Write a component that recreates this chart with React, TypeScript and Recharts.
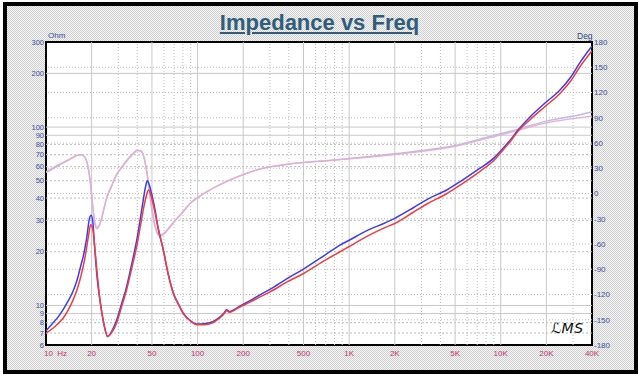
import React from 'react';
import { ComposedChart, Line, XAxis, YAxis, CartesianGrid, ReferenceLine, ReferenceArea } from 'recharts';

// ---- Data ----
const blueFreq = [10, 11, 12, 13, 14, 15, 16, 17, 17.6, 18.5, 19.5, 19.9, 20.4, 21, 21.7, 22.7, 24, 25.5, 27, 29.3, 31.5, 34, 37, 39.7, 42, 43.8, 45.3, 46.6, 48, 49.5, 51, 52.4, 55, 59.4, 64, 69.2, 75, 80.5, 90, 98.5, 110, 126, 140, 150, 155, 162, 175, 190, 220, 260, 300, 387, 500, 700, 870, 1000, 1300, 1720, 2000, 2650, 3300, 4400, 5500, 7300, 9000, 9880, 11500, 12970, 15600, 19500, 24500, 29000, 33300, 40000];
const blueOhm = [7.2, 7.9, 8.6, 9.5, 10.6, 11.9, 13.8, 16.8, 18.8, 23.5, 31.5, 32, 29, 20.5, 14.5, 10.7, 8.0, 6.7, 7.1, 8.3, 10.2, 12.7, 17.5, 23.3, 31, 39, 46, 50, 47.5, 43, 38.5, 34.3, 27, 20.5, 15, 11.7, 10.1, 9.04, 8.2, 7.87, 7.9, 8.1, 8.6, 9.1, 9.45, 9.25, 9.5, 9.9, 10.6, 11.5, 12.3, 14.1, 16, 19.3, 21.8, 23.2, 26.2, 29, 30.8, 35.3, 39.5, 44.4, 50, 58.8, 67, 72.8, 84, 96, 114, 136, 161, 191, 230, 285];

const redFreq = [10, 11, 12, 13, 14, 15, 16, 17, 18, 19, 19.7, 20.3, 21, 21.7, 22.7, 24, 25.5, 27, 29.3, 31.5, 34, 37, 39.7, 42, 44, 46, 47.5, 49, 50.5, 52.4, 55, 59.4, 64, 69.2, 75, 80.5, 90, 98.5, 110, 126, 140, 150, 155, 162, 175, 190, 220, 260, 300, 387, 500, 700, 870, 1000, 1300, 1720, 2000, 2650, 3300, 4400, 5500, 7300, 9000, 9880, 11500, 12970, 15600, 19500, 24500, 29000, 33300, 40000];
const redOhm = [7.0, 7.4, 7.9, 8.5, 9.4, 10.6, 12.2, 14.6, 18.2, 24, 28.3, 27, 21, 15.5, 10.7, 8.0, 6.7, 7.0, 8.0, 9.8, 12.2, 16.5, 21.5, 28, 35, 41.5, 44.4, 42, 38, 33, 27, 20.5, 15, 11.7, 10.1, 9.0, 8.15, 7.8, 7.8, 8.0, 8.5, 9.0, 9.35, 9.15, 9.4, 9.8, 10.4, 11.2, 11.9, 13.5, 15.1, 18, 20.0, 21.4, 24.3, 27.3, 28.8, 33.3, 37.3, 42.3, 47.8, 56.5, 65, 71, 82.5, 94.5, 110, 130, 154, 182, 218, 268];

const phaseFreq = [10, 11, 12, 13, 14, 15, 16, 17, 17.8, 18.5, 19, 19.5, 20, 20.5, 21, 21.7, 22.5, 23.5, 25, 27, 29, 32, 35, 38, 40, 42, 44, 45, 46.5, 48, 50, 52, 54, 56.5, 60, 65, 70, 80, 89, 100, 120, 150, 190, 270, 400, 750, 1000, 1860, 3000, 5000, 8000, 13000, 20000, 30000, 40000];
const pinkDeg = [26, 30, 34, 37, 40, 43, 45.5, 46, 44, 39, 31, 18, 0, -20, -34, -40, -37, -26, -6, 9, 22, 33, 42, 48.5, 51.5, 51, 45, 38, 24, 5, -18, -35, -45, -49, -47, -40, -33, -22, -12, -5, 4, 13, 21, 30, 35, 39, 41, 45.7, 50, 56, 65, 75, 84, 89, 92];
const lightBlueDeg = [25, 29, 33, 36.5, 39.5, 42.5, 45, 46, 44.5, 39, 30, 16, -2, -22, -36, -42, -38, -27, -7, 8, 21, 32, 41, 48, 51, 50.5, 45, 37, 22, 3, -20, -37, -47, -51, -48, -41, -34, -22, -12, -5, 4, 13, 21, 30, 35, 39.5, 41.5, 46.5, 51, 57, 66.5, 76.5, 86, 92, 97];

const xTicks = [10, 20, 50, 100, 200, 500, 1000, 2000, 5000, 10000, 20000, 40000];
const xTickLabels = ['10  Hz', '20', '50', '100', '200', '500', '1K', '2K', '5K', '10K', '20K', '40K'];
const xMinor = [30, 40, 60, 70, 80, 90, 300, 400, 600, 700, 800, 900, 3000, 4000, 6000, 7000, 8000, 9000, 30000];
const ohmTicks = [6, 7, 8, 9, 10, 20, 30, 40, 50, 60, 70, 80, 90, 100, 200, 300];
const ohmMajor = [200, 100, 90, 10, 9];
const ohmMinor = [80, 70, 60, 50, 40, 30, 20, 8, 7];
const degTicks = [-180, -150, -120, -90, -60, -30, 0, 30, 60, 90, 120, 150, 180];
const degGrid = [-150, -120, -90, -60, -30, 0, 30, 60, 90, 120, 150];

const pts = (f: number[], v: number[]) => f.map((x, i) => ({ f: x, v: v[i] }));
const blueData = pts(blueFreq, blueOhm);
const redData = pts(redFreq, redOhm);
const pinkData = pts(phaseFreq, pinkDeg);
const lbData = pts(phaseFreq, lightBlueDeg);

const FONT = '"Liberation Sans", Arial, sans-serif';

const XTick = (props: any) => {
  const { x, y, payload } = props;
  const idx = xTicks.indexOf(payload.value);
  const first = payload.value === 10;
  return (
    <text x={first ? x - 2 : x} y={y + 8} dy="0.35em" textAnchor={first ? 'start' : 'middle'}
      fontSize={8} fontFamily={FONT} fill="#d0306e" style={{ whiteSpace: 'pre' }}>
      {idx >= 0 ? xTickLabels[idx] : payload.value}
    </text>
  );
};

const LTick = (props: any) => {
  const { x, y, payload } = props;
  return (
    <text x={x} y={y} dy="0.35em" textAnchor="end" fontSize={7.5} fontFamily={FONT} fill="#3a4ea8">
      {payload.value}
    </text>
  );
};

const RTick = (props: any) => {
  const { x, y, payload } = props;
  return (
    <text x={x} y={y} dy="0.35em" textAnchor="start" fontSize={8} fontFamily={FONT} fill="#3a4ea8">
      {payload.value}
    </text>
  );
};

export default function App() {
  return (
    <div style={{ position: 'absolute', left: 0, top: 0, width: 639, height: 375, overflow: 'hidden', background: '#fff' }}>
      <div style={{
        position: 'absolute', left: 3, top: 2, width: 635, height: 372, boxSizing: 'border-box',
        border: '4px solid #000',
        background: 'repeating-conic-gradient(#cfcfcf 0% 25%, #f6f6f6 0% 50%) 0 0 / 2px 2px',
      }} />
      <div style={{
        position: 'absolute', left: 0, top: 9, width: 639, textAlign: 'center', fontFamily: FONT,
        fontWeight: 'bold', fontSize: 22, lineHeight: '28px', color: '#2e5d7f', textDecoration: 'underline',
      }}>Impedance vs Freq</div>
      <div style={{ position: 'absolute', left: 48, top: 31, fontFamily: FONT, fontSize: 8, color: '#3a4ea8' }}>Ohm</div>
      <div style={{ position: 'absolute', left: 577, top: 31, fontFamily: FONT, fontSize: 8.5, color: '#2e4a8a' }}>Deg</div>
      <div style={{ position: 'absolute', left: 0, top: 0 }}>
        <ComposedChart width={639} height={375} margin={{ top: 42, right: 0, bottom: 0, left: 0 }}>
          <CartesianGrid fill="#ffffff" horizontal={false} vertical={false} />
          <XAxis dataKey="f" type="number" scale="log" domain={[10, 40000]} ticks={xTicks} allowDataOverflow
            height={30} tickSize={0} tickMargin={0} axisLine={false} tickLine={false} tick={<XTick />} interval={0} />
          <YAxis type="number" scale="log" domain={[6, 300]} ticks={ohmTicks} allowDataOverflow width={46}
            tickSize={0} tickMargin={2} axisLine={false} tickLine={false} tick={<LTick />} interval={0} />
          <YAxis yAxisId="p" orientation="right" type="number" domain={[-180, 180]} ticks={degTicks} allowDataOverflow
            width={47} tickSize={0} tickMargin={2} axisLine={false} tickLine={false} tick={<RTick />} interval={0} />
          {xMinor.map((v) => (
            <ReferenceLine key={'xm' + v} x={v} stroke="#bcbcbc" strokeDasharray="1 2" strokeWidth={1} />
          ))}
          {degGrid.map((v) => (
            <ReferenceLine key={'dg' + v} y={v} yAxisId="p" stroke="#bcbcbc" strokeDasharray="1 2" strokeWidth={1} />
          ))}
          {ohmMinor.map((v) => (
            <ReferenceLine key={'om' + v} y={v} stroke="#bcbcbc" strokeDasharray="2 2" strokeWidth={1} />
          ))}
          {xTicks.slice(1, -1).map((v) => (
            <ReferenceLine key={'xM' + v} x={v} stroke="#c8c8c8" strokeWidth={1} />
          ))}
          {ohmMajor.map((v) => (
            <ReferenceLine key={'oM' + v} y={v} stroke="#c8c8c8" strokeWidth={1} />
          ))}
          <Line data={lbData} dataKey="v" yAxisId="p" type="monotone" stroke="#b8bcf2" strokeWidth={1.5} dot={false} isAnimationActive={false} />
          <Line data={pinkData} dataKey="v" yAxisId="p" type="monotone" stroke="#f2a8c8" strokeWidth={1.2} dot={false} isAnimationActive={false} />
          <Line data={blueData} dataKey="v" type="monotone" stroke="#3c3cf4" strokeWidth={1.5} dot={false} isAnimationActive={false} />
          <Line data={redData} dataKey="v" type="monotone" stroke="#f43c3c" strokeWidth={1.5} dot={false} isAnimationActive={false} />
          <ReferenceArea x1={10} x2={40000} y1={6} y2={300} fill="none" stroke="#000" strokeWidth={2} />
        </ComposedChart>
      </div>
      <div style={{ position: 'absolute', left: 551, top: 320, fontFamily: '"DejaVu Sans", sans-serif', fontStyle: 'italic', fontSize: 14, color: '#111', letterSpacing: 0.5 }}>ℒMS</div>
    </div>
  );
}
